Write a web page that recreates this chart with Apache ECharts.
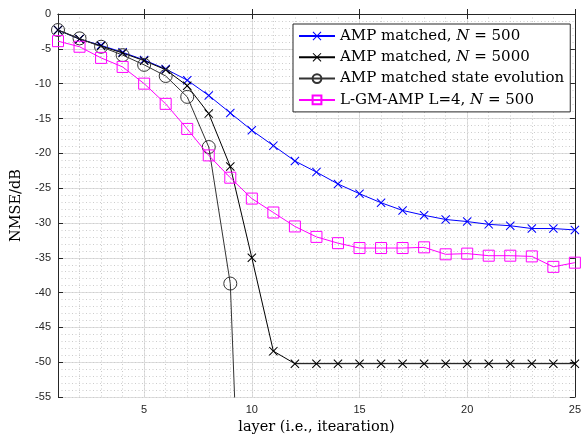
<!DOCTYPE html>
<html>
<head>
<meta charset="utf-8">
<script src="https://cdn.jsdelivr.net/npm/echarts@6/dist/echarts.min.js"></script>
<style>html,body{margin:0;padding:0;background:#fff;}#c{width:584px;height:440px;}</style>
</head>
<body>
<div id="c"></div>
<script>
// ---- data ----
const layers = [1,2,3,4,5,6,7,8,9,10,11,12,13,14,15,16,17,18,19,20,21,22,23,24,25];
const ampN500 = [-2.3,-3.6,-4.5,-5.5,-6.6,-7.9,-9.5,-11.7,-14.2,-16.7,-18.9,-21.1,-22.7,-24.4,-25.8,-27.1,-28.2,-28.9,-29.5,-29.8,-30.2,-30.4,-30.8,-30.8,-31.0];
const ampN5000 = [-2.3,-3.6,-4.6,-5.6,-6.7,-8.0,-10.3,-14.3,-21.9,-35.0,-48.4,-50.2,-50.2,-50.2,-50.2,-50.2,-50.2,-50.2,-50.2,-50.2,-50.2,-50.2,-50.2,-50.2,-50.2];
const stateEvoLayers = [1,2,3,4,5,6,7,8,9,10];
const stateEvo = [-2.3,-3.5,-4.7,-5.9,-7.3,-8.9,-11.9,-19.1,-38.7,-120];
const lgmAmp = [-3.9,-4.7,-6.3,-7.6,-10.0,-12.9,-16.5,-20.3,-23.5,-26.5,-28.5,-30.5,-32.0,-32.9,-33.6,-33.6,-33.6,-33.5,-34.5,-34.4,-34.7,-34.7,-34.8,-36.3,-35.7];
const xTicks = [5,10,15,20,25];
const seriesNames = ['AMP matched, N = 500','AMP matched, N = 5000','AMP matched state evolution','L-GM-AMP L=4, N = 500'];

const pair = (xs, ys) => xs.map((x, i) => [x, ys[i]]);
const crossPath = 'path://M0,8 L8,0 L50,42 L92,0 L100,8 L58,50 L100,92 L92,100 L50,58 L8,100 L0,92 L42,50 Z';
const axisCol = '#262626';
const serif = 'DejaVu Serif';
const fs = 15;

function legendFmt(name) {
  const m = name.match(/^(.*?)N = (.*)$/);
  if (m) return '{a|' + m[1] + '}{i|N}{a| = ' + m[2] + '}';
  return '{a|' + name + '}';
}

const chart = echarts.init(document.getElementById('c'), null, {renderer: 'canvas'});
chart.setOption({
  animation: false,
  backgroundColor: '#fff',
  grid: {left: 58, right: 5, top: 14, bottom: 41, containLabel: false},
  legend: {
    orient: 'vertical', left: 293, top: 24,
    backgroundColor: '#fff', borderColor: axisCol, borderWidth: 1,
    padding: [3.5, 6, 3.5, 5], itemGap: 4.3, itemWidth: 36, itemHeight: 11,
    data: seriesNames,
    formatter: legendFmt,
    textStyle: {
      fontFamily: serif, fontSize: fs, color: '#000', lineHeight: 17,
      rich: {
        a: {fontFamily: serif, fontSize: fs, color: '#000', lineHeight: 17},
        i: {fontFamily: serif, fontSize: fs, fontStyle: 'italic', color: '#000', lineHeight: 17}
      }
    }
  },
  xAxis: [
    {
      type: 'value', min: 1, max: 25, position: 'bottom',
      name: 'layer (i.e., itearation)', nameLocation: 'middle', nameGap: 22,
      nameTextStyle: {fontFamily: serif, fontSize: 14.5, color: '#000'},
      axisLine: {show: true, lineStyle: {color: axisCol, width: 1}},
      axisTick: {show: true, inside: true, length: 5, customValues: xTicks, lineStyle: {color: axisCol}},
      axisLabel: {customValues: xTicks, fontFamily: 'Liberation Sans', fontSize: 11, color: axisCol, margin: 7},
      splitLine: {show: true, lineStyle: {color: '#dfdfdf', width: 1}}
    },
    {
      type: 'value', min: 1, max: 25, position: 'top',
      axisLine: {show: true, onZero: false, lineStyle: {color: axisCol, width: 1}},
      axisTick: {show: true, inside: true, length: 5, customValues: xTicks, lineStyle: {color: axisCol}},
      axisLabel: {show: false, customValues: xTicks},
      splitLine: {show: false}
    },
    {
      type: 'value', min: 1, max: 25, interval: 1, position: 'bottom',
      axisLine: {show: false}, axisTick: {show: false}, axisLabel: {show: false},
      splitLine: {show: true, lineStyle: {color: '#cccccc', width: 1, type: [1, 2.5]}}
    }
  ],
  yAxis: [
    {
      type: 'value', min: -55, max: 0, interval: 5, position: 'left',
      name: 'NMSE/dB', nameLocation: 'middle', nameGap: 34, nameRotate: 90,
      nameTextStyle: {fontFamily: serif, fontSize: 14.5, color: '#000'},
      axisLine: {show: true, onZero: false, lineStyle: {color: axisCol, width: 1}},
      axisTick: {show: true, inside: true, length: 5, lineStyle: {color: axisCol}},
      axisLabel: {fontFamily: 'Liberation Sans', fontSize: 11, color: axisCol, margin: 7},
      splitLine: {show: true, lineStyle: {color: '#dfdfdf', width: 1}}
    },
    {
      type: 'value', min: -55, max: 0, interval: 5, position: 'right',
      axisLine: {show: true, onZero: false, lineStyle: {color: axisCol, width: 1}},
      axisTick: {show: true, inside: true, length: 5, lineStyle: {color: axisCol}},
      axisLabel: {show: false},
      splitLine: {show: false}
    },
    {
      type: 'value', min: -55, max: 0, interval: 1, position: 'left',
      axisLine: {show: false}, axisTick: {show: false}, axisLabel: {show: false},
      splitLine: {show: true, lineStyle: {color: '#cccccc', width: 1, type: [1, 2.5]}}
    }
  ],
  series: [
    {
      name: seriesNames[0], type: 'line', xAxisIndex: 0, yAxisIndex: 0,
      data: pair(layers, ampN500), clip: true,
      symbol: crossPath, symbolSize: 9, showAllSymbol: true,
      lineStyle: {color: '#0000ff', width: 1},
      itemStyle: {color: '#0000ff'}, z: 3
    },
    {
      name: seriesNames[1], type: 'line', xAxisIndex: 0, yAxisIndex: 0,
      data: pair(layers, ampN5000), clip: true,
      symbol: crossPath, symbolSize: 9, showAllSymbol: true,
      lineStyle: {color: '#000000', width: 1},
      itemStyle: {color: '#000000'}, z: 4
    },
    {
      name: seriesNames[2], type: 'line', xAxisIndex: 0, yAxisIndex: 0,
      data: pair(stateEvoLayers, stateEvo), clip: true,
      symbol: 'circle', symbolSize: 13, showAllSymbol: true,
      lineStyle: {color: '#333333', width: 1},
      itemStyle: {color: 'rgba(0,0,0,0)', borderColor: '#333333', borderWidth: 1}, z: 5
    },
    {
      name: seriesNames[3], type: 'line', xAxisIndex: 0, yAxisIndex: 0,
      data: pair(layers, lgmAmp), clip: true,
      symbol: 'rect', symbolSize: 11, showAllSymbol: true,
      lineStyle: {color: '#ff00ff', width: 1},
      itemStyle: {color: 'rgba(0,0,0,0)', borderColor: '#ff00ff', borderWidth: 1}, z: 6
    }
  ]
});
</script>
</body>
</html>
